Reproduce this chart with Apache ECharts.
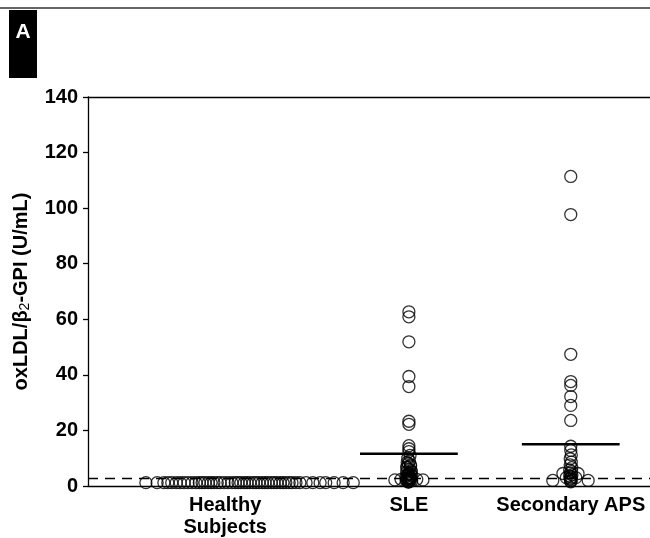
<!DOCTYPE html>
<html>
<head>
<meta charset="utf-8">
<script src="https://cdn.jsdelivr.net/npm/echarts@6/dist/echarts.min.js"></script>
<style>html,body{margin:0;padding:0;background:#fff}#c{width:650px;height:538px}</style>
</head>
<body>
<div id="c"></div>
<script>
// ---- data ----
const groupNames = ['Healthy\nSubjects', 'SLE', 'Secondary APS'];
const groupPos = [24.4, 57.1, 85.9];
const yTicks = [0, 20, 40, 60, 80, 100, 120, 140];
const cutoff = 2.9;
const groupMeans = [null, 11.6, 15.0];

const healthyX = [10.3, 12.3, 13.5, 14.2, 14.9, 15.7, 16.4, 17.1, 17.8, 18.5, 19.2, 19.8, 20.3, 20.8, 21.4, 21.9, 22.4, 23.0, 23.5, 24.2, 24.9, 25.6, 26.2, 26.7, 27.2, 27.8, 28.3, 28.8, 29.4, 29.9, 30.4, 31.0, 31.5, 32.0, 32.6, 33.1, 33.6, 34.2, 34.7, 35.2, 35.8, 36.3, 37.0, 37.7, 38.8, 40.0, 41.3, 42.3, 43.8, 45.4, 47.2];
const healthyY = [1.2, 1.2, 1.2, 1.2, 1.2, 1.2, 1.2, 1.2, 1.2, 1.2, 1.2, 1.2, 1.2, 1.2, 1.2, 1.2, 1.2, 1.2, 1.2, 1.2, 1.2, 1.2, 1.2, 1.2, 1.2, 1.2, 1.2, 1.2, 1.2, 1.2, 1.2, 1.2, 1.2, 1.2, 1.2, 1.2, 1.2, 1.2, 1.2, 1.2, 1.2, 1.2, 1.2, 1.2, 1.2, 1.2, 1.2, 1.2, 1.2, 1.2, 1.2];

const sleX = [57.1, 57.1, 57.1, 57.1, 57.1, 57.1, 57.1, 57.1, 57.1, 57.1, 57.3, 56.9, 57.2, 57.0, 57.4, 56.8, 57.1, 57.5, 56.7, 57.3, 57.0, 57.6, 56.6, 57.2, 56.9, 57.5, 56.7, 57.1, 57.3, 56.9, 57.1, 57.0, 56.8, 57.4, 56.7, 57.5, 57.0, 56.8, 57.4, 57.2, 56.6, 57.6, 57.0, 54.6, 55.7, 58.5, 59.6];
const sleY = [62.7, 60.9, 51.9, 39.4, 35.8, 23.3, 22.2, 14.5, 13.4, 12.4, 11.0, 10.0, 9.0, 8.0, 7.2, 6.5, 6.0, 5.5, 5.0, 4.6, 4.2, 3.8, 3.5, 3.2, 2.9, 2.6, 2.4, 2.2, 2.0, 1.8, 1.6, 1.4, 8.5, 7.6, 6.8, 5.2, 4.4, 3.9, 3.0, 2.7, 2.1, 1.9, 1.5, 2.2, 2.4, 2.4, 2.2];

const apsX = [85.9, 85.9, 85.9, 85.9, 85.9, 85.9, 85.9, 85.9, 85.9, 85.9, 86.0, 85.8, 86.0, 85.8, 86.1, 85.7, 86.0, 85.8, 86.1, 85.7, 86.0, 85.9, 85.8, 86.0, 85.9, 85.9, 84.5, 87.2, 85.1, 86.8, 82.7, 89.0];
const apsY = [111.4, 97.7, 47.4, 37.6, 36.2, 32.2, 29.0, 23.6, 14.3, 12.8, 11.2, 9.8, 8.6, 7.6, 6.6, 5.8, 5.2, 4.6, 4.0, 3.6, 3.2, 2.8, 2.5, 2.2, 1.8, 1.5, 4.5, 4.5, 3.0, 3.0, 2.0, 2.0];

// ---- chart ----
const zip = (xs, ys) => xs.map((x, i) => [x, ys[i]]);
const font = '"Liberation Sans", Arial, sans-serif';
const meanHalf = 8.7;
const circleStyle = { color: 'rgba(0,0,0,0)', borderColor: '#000', borderWidth: 1.3 };

const series = [
  { type: 'scatter', data: zip(healthyX, healthyY), symbol: 'circle', symbolSize: 12, itemStyle: circleStyle, silent: true,
    markLine: { silent: true, symbol: 'none', label: { show: false },
      lineStyle: { color: '#000', type: [10, 7], width: 1.3 },
      data: [{ yAxis: cutoff }] } },
  { type: 'scatter', data: zip(sleX, sleY), symbol: 'circle', symbolSize: 12, itemStyle: circleStyle, silent: true },
  { type: 'scatter', data: zip(apsX, apsY), symbol: 'circle', symbolSize: 12, itemStyle: circleStyle, silent: true }
];
groupMeans.forEach((m, i) => {
  if (m == null) return;
  series.push({ type: 'line', data: [[groupPos[i] - meanHalf, m], [groupPos[i] + meanHalf, m]],
    symbol: 'none', lineStyle: { color: '#000', width: 2.5 }, silent: true, z: 3 });
});

const chart = echarts.init(document.getElementById('c'), null, { renderer: 'canvas' });
chart.setOption({
  animation: false,
  backgroundColor: '#fff',
  grid: { left: 88, right: 0, top: 97, bottom: 50 },
  xAxis: [
    { type: 'value', min: 0, max: 100, splitLine: { show: false },
      axisLine: { lineStyle: { color: '#000', width: 1.3 } }, axisTick: { show: false },
      axisLabel: { customValues: groupPos, color: '#000', fontFamily: font, fontWeight: 'bold', fontSize: 20, lineHeight: 22, margin: 8,
        formatter: v => { let b = 0; groupPos.forEach((p, i) => { if (Math.abs(p - v) < Math.abs(groupPos[b] - v)) b = i; }); return groupNames[b]; } } },
    { type: 'value', position: 'top', min: 0, max: 100, splitLine: { show: false },
      axisLine: { show: true, lineStyle: { color: '#000', width: 1.3 } }, axisTick: { show: false }, axisLabel: { show: false } }
  ],
  yAxis: {
    type: 'value', min: yTicks[0], max: yTicks[yTicks.length - 1], interval: 20, splitLine: { show: false },
    axisLine: { show: true, lineStyle: { color: '#000', width: 1.3 } },
    axisTick: { show: true, length: 5, lineStyle: { color: '#000', width: 1.3 } },
    axisLabel: { color: '#000', fontFamily: font, fontWeight: 'bold', fontSize: 20, margin: 10 },
    name: 'oxLDL/β{sub|2}-GPI (U/mL)', nameLocation: 'middle', nameGap: 56, nameRotate: 90,
    nameTextStyle: { color: '#000', fontFamily: font, fontWeight: 'bold', fontSize: 20,
      rich: { sub: { fontFamily: font, fontWeight: 'normal', fontSize: 14, verticalAlign: 'bottom', padding: [8, 0, 0, 0], color: '#000' } } }
  },
  series: series,
  graphic: [
    { type: 'line', shape: { x1: 0, y1: 8, x2: 650, y2: 8 }, style: { stroke: '#333', lineWidth: 1.5 }, silent: true },
    { type: 'rect', shape: { x: 9, y: 10, width: 28, height: 68 }, style: { fill: '#000' }, silent: true },
    { type: 'text', x: 23, y: 32, style: { text: 'A', fill: '#fff', font: 'bold 21px ' + font, textAlign: 'center', textVerticalAlign: 'middle' }, silent: true }
  ]
});
</script>
</body>
</html>
